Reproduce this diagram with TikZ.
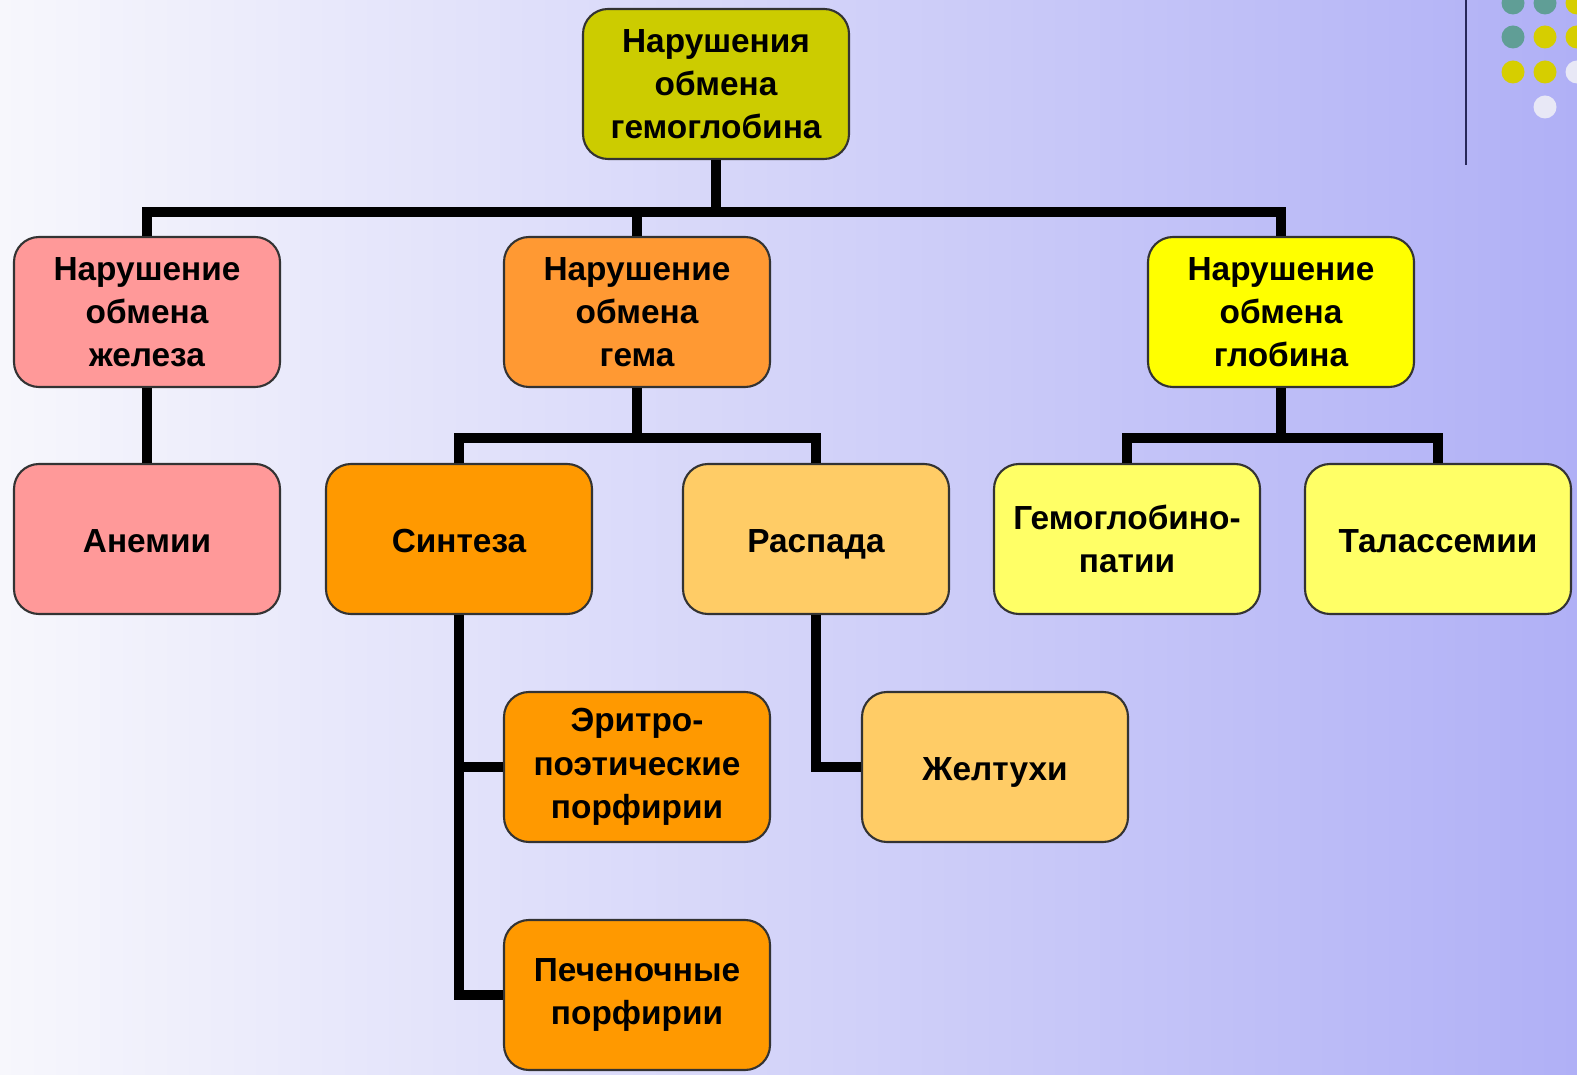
\documentclass[tikz,border=0pt]{standalone}
\usepackage{fontspec}
\setmainfont{Liberation Sans}
\usepackage{xcolor}
\usepackage{tikz}
\usetikzlibrary{
  calc,
  positioning
}
\definecolor{rootolive}{RGB}{204,204,0}
\definecolor{ironpink}{RGB}{255,153,153}
\definecolor{hemeorange}{RGB}{255,153,51}
\definecolor{synthorange}{RGB}{255,153,0}
\definecolor{decaysand}{RGB}{255,204,102}
\definecolor{globinyellow}{RGB}{255,255,0}
\definecolor{paleyellow}{RGB}{255,255,102}
\definecolor{bgleft}{RGB}{247,247,252}
\definecolor{bgmid}{RGB}{226,226,250}
\definecolor{bgright}{RGB}{176,176,246}
\definecolor{dotteal}{RGB}{96,158,150}
\definecolor{dotyellow}{RGB}{214,206,0}
\definecolor{dotwhite}{RGB}{232,232,246}
\definecolor{rulenavy}{RGB}{40,40,90}

\begin{document}
\begin{tikzpicture}[
  font=\bfseries\fontsize{9.5pt}{12.3pt}\selectfont,
  blk/.style={draw=black!80, line width=0.6pt, rounded corners=0.25cm,
    minimum width=2.66cm, minimum height=1.50cm, align=center, inner sep=2pt},
  single/.style={text height=7.9pt, text depth=0pt},
  conn/.style={line width=3pt, black}
]
  \useasboundingbox (0,0) rectangle (15.77,-10.75);
  \clip (0,0) rectangle (15.77,-10.75);

  % Background
  \shade[left color=bgleft, middle color=bgmid, right color=bgright]
    (0,0) rectangle (15.77,-10.75);

  % Corner decoration
  \draw[rulenavy, line width=0.7pt] (14.66,0) -- (14.66,-1.65);
  \fill[dotteal] (15.13,-0.03) circle (0.115);
  \fill[dotteal] (15.45,-0.03) circle (0.115);
  \fill[dotyellow] (15.77,-0.03) circle (0.115);
  \fill[dotteal] (15.13,-0.37) circle (0.115);
  \fill[dotyellow] (15.45,-0.37) circle (0.115);
  \fill[dotyellow] (15.77,-0.37) circle (0.115);
  \fill[dotyellow] (15.13,-0.72) circle (0.115);
  \fill[dotyellow] (15.45,-0.72) circle (0.115);
  \fill[dotwhite] (15.77,-0.72) circle (0.115);
  \fill[dotwhite] (15.45,-1.07) circle (0.115);

  % Level 0
  \node[blk, fill=rootolive] (root) at (7.16,-0.84) {Нарушения\\обмена\\гемоглобина};

  % Level 1
  \node[blk, fill=ironpink] (iron) at (1.47,-3.12) {Нарушение\\обмена\\железа};
  \node[blk, fill=hemeorange] (heme) at (6.37,-3.12) {Нарушение\\обмена\\гема};
  \node[blk, fill=globinyellow] (globin) at (12.81,-3.12) {Нарушение\\обмена\\глобина};

  % Level 2
  \node[blk, single, fill=ironpink] (anemia) at (1.47,-5.39) {Анемии};
  \node[blk, single, fill=synthorange] (synth) at (4.59,-5.39) {Синтеза};
  \node[blk, single, fill=decaysand] (decay) at (8.16,-5.39) {Распада};
  \node[blk, fill=paleyellow] (hbpath) at (11.27,-5.39) {Гемоглобино-\\патии};
  \node[blk, single, fill=paleyellow] (thal) at (14.38,-5.39) {Талассемии};

  % Level 3
  \node[blk, fill=synthorange] (erythro) at (6.37,-7.67) {Эритро-\\поэтические\\порфирии};
  \node[blk, single, fill=decaysand] (jaund) at (9.95,-7.67) {Желтухи};
  \node[blk, fill=synthorange] (hepat) at (6.37,-9.95) {Печеночные\\порфирии};

  % Connectors
  \coordinate (bus) at (7.16,-2.12);
  \coordinate (hemebus) at (6.37,-4.38);
  \coordinate (globbus) at (12.81,-4.38);
  \draw[conn] (root.south) -- (bus);
  \draw[conn] (iron.north) |- (bus) -| (globin.north);
  \draw[conn] (heme.north) -- (heme.north |- bus);
  \draw[conn] (iron.south) -- (anemia.north);
  \draw[conn] (heme.south) -- (hemebus);
  \draw[conn] (synth.north) |- (hemebus) -| (decay.north);
  \draw[conn] (globin.south) -- (globbus);
  \draw[conn] (hbpath.north) |- (globbus) -| (thal.north);
  \draw[conn] (synth.south) |- (hepat.west);
  \draw[conn] (synth.south |- erythro.west) -- (erythro.west);
  \draw[conn] (decay.south) |- (jaund.west);
\end{tikzpicture}
\end{document}
